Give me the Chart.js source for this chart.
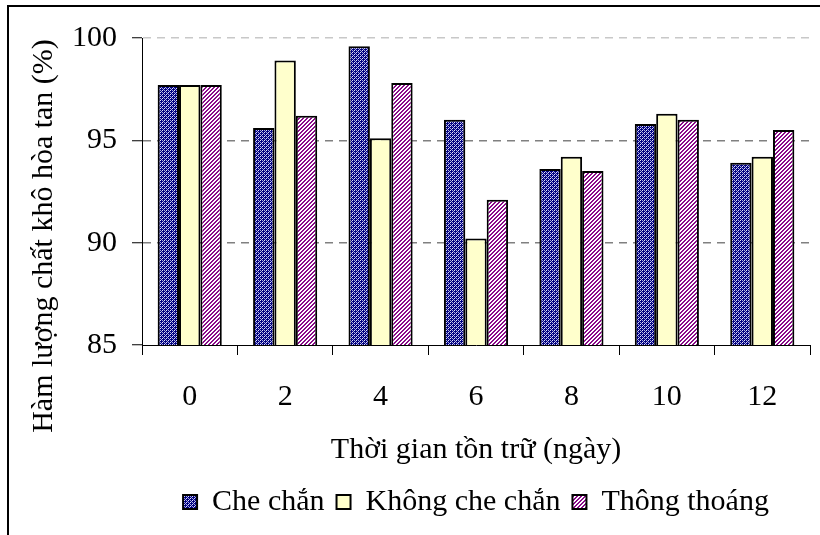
<!DOCTYPE html>
<html>
<head>
<meta charset="utf-8">
<script src="https://cdn.jsdelivr.net/npm/chart.js@4/dist/chart.umd.min.js"></script>
<style>
  html, body { margin: 0; padding: 0; background: #fff; overflow: hidden; }
  #wrap { position: relative; width: 820px; height: 535px; }
  #frame {
    position: absolute; left: 7px; top: 5px; width: 900px; height: 600px;
    border-top: 2px solid #000; border-left: 2px solid #000; pointer-events: none;
  }
  canvas { position: absolute; left: 0; top: 0; }
</style>
</head>
<body>
<div id="wrap">
  <canvas id="chart" width="820" height="535"></canvas>
  <div id="frame"></div>
</div>
<script>
// Storage time (days)
const categories = ['0', '2', '4', '6', '8', '10', '12'];
const seriesNames = ['Che chắn', 'Không che chắn', 'Thông thoáng'];
// Soluble solids content (%)
const cheChan      = [97.7, 95.6, 99.6, 96.0, 93.6, 95.8, 93.9];
const khongCheChan = [97.7, 98.9, 95.1, 90.2, 94.2, 96.3, 94.2];
const thongThoang  = [97.7, 96.2, 97.8, 92.1, 93.5, 96.0, 95.5];
const yTicks = [85, 90, 95, 100];

const FONT = 'Liberation Serif, Times New Roman, serif';
const FSIZE = 30;

function makePattern(size, paint) {
  const c = document.createElement('canvas');
  c.width = size; c.height = size;
  const g = c.getContext('2d');
  paint(g);
  return g.createPattern(c, 'repeat');
}

// navy crosses on a light lavender dotted ground
const bluePattern = makePattern(4, g => {
  g.fillStyle = '#000080'; g.fillRect(0, 0, 4, 4);
  g.fillStyle = '#e4e4fa'; g.fillRect(0, 0, 1, 1); g.fillRect(2, 2, 1, 1);
  g.fillStyle = '#a8a8e0';
  g.fillRect(2, 0, 1, 1); g.fillRect(0, 2, 1, 1);
  g.fillRect(1, 3, 1, 1); g.fillRect(3, 1, 1, 1);
});
// purple / white diagonal stripes
const purplePattern = makePattern(4, g => {
  g.fillStyle = '#ffffff'; g.fillRect(0, 0, 4, 4);
  g.fillStyle = '#8a0a8a';
  for (let x = 0; x < 4; x++) for (let y = 0; y < 4; y++) {
    if ((x + y) % 4 < 2) g.fillRect(x, y, 1, 1);
  }
});

const yTitlePlugin = {
  id: 'yTitle',
  afterDraw(chart) {
    const ctx = chart.ctx;
    const a = chart.chartArea;
    ctx.save();
    ctx.translate(44, a.top + 198);
    ctx.rotate(-Math.PI / 2);
    ctx.font = FSIZE + 'px ' + FONT;
    ctx.fillStyle = '#000';
    ctx.textAlign = 'center';
    ctx.textBaseline = 'middle';
    ctx.fillText('Hàm lượng chất khô hòa tan (%)', 0, 0);
    ctx.restore();
  }
};

const barCommon = {
  borderColor: '#000',
  borderWidth: 2,
  borderSkipped: 'bottom',
  barPercentage: 1.0,
  categoryPercentage: 0.672
};

new Chart(document.getElementById('chart'), {
  type: 'bar',
  data: {
    labels: categories,
    datasets: [
      Object.assign({ label: seriesNames[0], data: cheChan, backgroundColor: bluePattern }, barCommon),
      Object.assign({ label: seriesNames[1], data: khongCheChan, backgroundColor: '#ffffcc' }, barCommon),
      Object.assign({ label: seriesNames[2], data: thongThoang, backgroundColor: purplePattern }, barCommon)
    ]
  },
  options: {
    responsive: false,
    animation: false,
    devicePixelRatio: 1,
    layout: { padding: { left: 57, right: 10, top: 38, bottom: 8 } },
    plugins: {
      tooltip: { enabled: false },
      legend: {
        position: 'bottom',
        fullSize: false,
        labels: {
          font: { family: FONT, size: FSIZE },
          color: '#000',
          boxWidth: 14,
          boxHeight: 14,
          padding: 12
        }
      }
    },
    scales: {
      x: {
        grid: {
          offset: true,
          drawOnChartArea: false,
          drawTicks: true,
          tickLength: 10,
          tickColor: '#000',
          color: '#000'
        },
        border: { display: true, color: '#000', width: 1 },
        ticks: { font: { family: FONT, size: FSIZE }, color: '#000', padding: 24 },
        title: {
          display: true,
          text: 'Thời gian tồn trữ (ngày)',
          font: { family: FONT, size: FSIZE },
          color: '#000',
          padding: { top: -7, bottom: 7 }
        }
      },
      y: {
        min: 85,
        max: 100,
        afterBuildTicks(scale) { scale.ticks = yTicks.map(v => ({ value: v })); },
        grid: {
          color(ctx) {
            const v = ctx.tick && ctx.tick.value;
            if (v === 85) return 'rgba(0,0,0,0)';
            if (v === 100) return '#c8c8c8';
            return '#808080';
          },
          lineWidth: 1.5,
          tickBorderDash: [],
          tickLength: 10,
          tickColor: '#000',
          tickWidth: 1
        },
        border: { display: true, color: '#000', width: 1, dash: [8, 6] },
        ticks: { font: { family: FONT, size: FSIZE }, color: '#000', padding: 15 }
      }
    }
  },
  plugins: [yTitlePlugin]
});
</script>
</body>
</html>
